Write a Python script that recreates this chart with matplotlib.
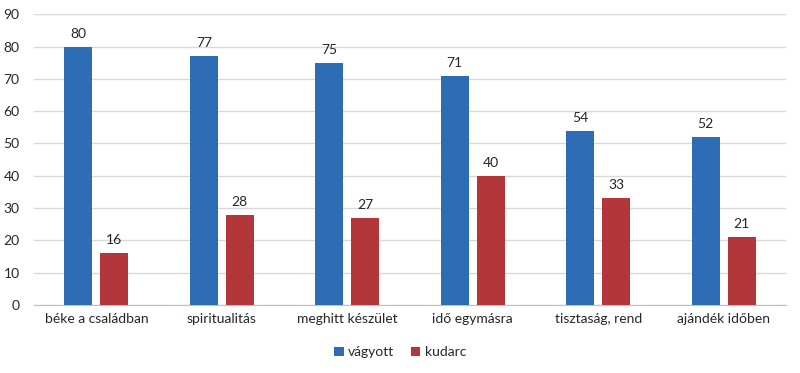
import matplotlib
matplotlib.use("Agg")
import matplotlib.pyplot as plt
import numpy as np

categories = ["béke a családban", "spiritualitás", "meghitt készület", "idő egymásra", "tisztaság, rend", "ajándék időben"]
vagyott = [80, 77, 75, 71, 54, 52]
kudarc = [16, 28, 27, 40, 33, 21]
series_names = ["vágyott", "kudarc"]
yticks = list(range(0, 100, 10))

plt.rcParams['font.family'] = ['Lato', 'DejaVu Sans']

fig = plt.figure(figsize=(8, 3.73), dpi=100)
ax = fig.add_axes([0.042, 0.182, 0.941, 0.78])

x = np.arange(len(categories))
w = 0.223
off = 0.143
blue = "#2E6DB4"
red = "#B3363A"
b1 = ax.bar(x - off, vagyott, w, color=blue, label=series_names[0], zorder=3)
b2 = ax.bar(x + off, kudarc, w, color=red, label=series_names[1], zorder=3)
for bars, vals in ((b1, vagyott), (b2, kudarc)):
    for r, v in zip(bars, vals):
        ax.annotate(str(v), (r.get_x() + r.get_width() / 2, v), xytext=(0, 5),
                    textcoords="offset points", ha="center", va="bottom",
                    fontsize=10, color="#262626")

ax.set_xlim(-0.5, len(categories) - 0.5)
ax.set_ylim(0, 90)
ax.set_yticks(yticks)
ax.set_xticks(x)
ax.set_xticklabels(categories, fontsize=10, color="#262626")
ax.tick_params(axis='y', labelsize=10, colors="#262626", length=0, pad=10)
ax.tick_params(axis='x', length=0, pad=6)
ax.grid(axis='y', color="#D9D9D9", linewidth=1, zorder=0)
for s in ("top", "right", "left"):
    ax.spines[s].set_visible(False)
ax.spines["bottom"].set_color("#BFBFBF")

fig.legend(handles=[b1, b2], labels=series_names, loc="center", bbox_to_anchor=(0.5, 0.055),
           ncol=2, frameon=False, fontsize=10, handlelength=0.7, handleheight=0.7,
           handletextpad=0.3, columnspacing=1.2, labelcolor="#262626")

fig.savefig("out.png", dpi=100)
